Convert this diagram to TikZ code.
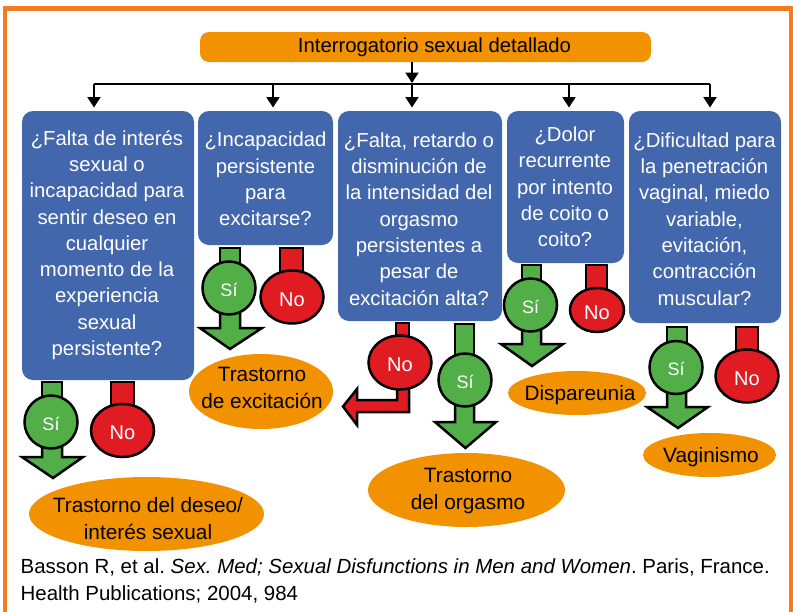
\documentclass[tikz,border=0pt]{standalone}
\usepackage{fontspec}
\setmainfont{Liberation Sans}
\usetikzlibrary{shapes.geometric,arrows.meta}
\definecolor{ordercolor}{HTML}{F39200}
\definecolor{framecolor}{HTML}{F47B20}
\definecolor{askcolor}{HTML}{4367AC}
\definecolor{sicolor}{HTML}{52AE47}
\definecolor{nocolor}{HTML}{E01B22}
\tikzset{
  askbox/.style={fill=askcolor,rounded corners=11pt},
  asktext/.style={align=center,text=white},
  resulttext/.style={align=center,text=black,font=\fontsize{20.8}{27}\selectfont},
  sinode/.style={circle,draw=black,line width=2.5pt,fill=sicolor,text=white,minimum size=53pt,inner sep=0pt,text height=16pt,text depth=0pt,font=\fontsize{18}{20}\selectfont},
  nonode/.style={ellipse,draw=black,line width=2.5pt,fill=nocolor,text=white,inner sep=0pt,text height=18pt,text depth=0pt,font=\fontsize{20}{22}\selectfont},
  siblock/.style={draw=black,line width=2.5pt,fill=sicolor},
  noblock/.style={draw=black,line width=2.5pt,fill=nocolor},
  branch/.style={black,line width=2.2pt,-{Triangle[width=13pt,length=10.5pt]}}
}
\begin{document}
\begin{tikzpicture}[x=1pt,y=-1pt,font=\frenchspacing\fontsize{20.3}{26.3}\selectfont]
    \useasboundingbox (0,0) rectangle (793,611);

    % Frame
    \begin{scope}
        \clip (0,0) rectangle (793,611);
        \draw[framecolor,line width=4.8pt] (5,8.3) rectangle (791.5,640);
    \end{scope}

    % Title
    \node[fill=ordercolor,rounded corners=9pt,minimum width=451pt,minimum height=30pt,inner sep=0pt] (title) at (425.5,47) {\hspace*{18pt}Interrogatorio sexual detallado};

    % Questions
    \fill[askbox] (22,111) rectangle (194,380);
    \node[asktext] (ask1) at (107,245) {¿Falta de interés\\sexual o\\incapacidad para\\sentir deseo en\\cualquier\\momento de la\\experiencia\\sexual\\persistente?};
    \fill[askbox] (198,111) rectangle (333,245);
    \node[asktext] (ask2) at (265.5,179) {¿Incapacidad\\persistente\\para\\excitarse?};
    \fill[askbox] (338,111) rectangle (502,321);
    \node[asktext] (ask3) at (419,219) {¿Falta, retardo o\\disminución de\\la intensidad del\\orgasmo\\persistentes a\\pesar de\\excitación alta?};
    \fill[askbox] (507,111) rectangle (624,263);
    \node[asktext] (ask4) at (565,187) {¿Dolor\\recurrente\\por intento\\de coito o\\coito?};
    \fill[askbox] (629,111) rectangle (781,323);
    \node[asktext] (ask5) at (704.5,219) {¿Dificultad para\\la penetración\\vaginal, miedo\\variable,\\evitación,\\contracción\\muscular?};

    % Branches from the title
    \coordinate (bus) at (412,84.3);
    \draw[branch] (title.south -| bus) -- (412,83);
    \draw[black,line width=2.2pt] (94,84.3) -- (710,84.3);
    \foreach \x in {94,273,412,569,710}
        \draw[branch] (\x,84.3) -- (\x,107.5);

    % Results
    \fill[ordercolor] (146.5,514) ellipse [x radius=117.5,y radius=37];
    \node[resulttext] (res1) at (148,519) {Trastorno del deseo/\\interés sexual};
    \fill[ordercolor] (261,391.5) ellipse [x radius=72,y radius=37.5];
    \node[resulttext] (res2) at (262,387.5) {Trastorno\\de excitación};
    \fill[ordercolor] (466.5,490) ellipse [x radius=98.5,y radius=37];
    \node[resulttext] (res3) at (468,490.5) {Trastorno\\del orgasmo};
    \fill[ordercolor] (577,393) ellipse [x radius=69,y radius=22];
    \node[resulttext] (res4) at (580,395) {Dispareunia};
    \fill[ordercolor] (709.5,455) ellipse [x radius=66.5,y radius=22];
    \node[resulttext] (res5) at (711,457) {Vaginismo};

    % Sí 1, No 1
    \draw[siblock] (42,382) rectangle (62,400);
    \draw[siblock] (42,447) -- (42,457) -- (22,457) -- (53,478) -- (83,457) -- (62,457) -- (62,447);
    \node[sinode] (si1) at (51,422) {Sí};
    \draw[noblock] (111,382) rectangle (134,408);
    \node[nonode,minimum width=63pt,minimum height=53pt] (no1) at (122.5,430.5) {No};

    % Sí 2, No 2
    \draw[siblock] (220,248) rectangle (240,266);
    \draw[siblock] (220,313) -- (220,328) -- (200,328) -- (230,349) -- (262,328) -- (240,328) -- (240,313);
    \node[sinode] (si2) at (229,288) {Sí};
    \draw[noblock] (280,248) rectangle (303,275);
    \node[nonode,minimum width=63pt,minimum height=53pt] (no2) at (292,297) {No};

    % No 3 with the bent arrow, Sí 3
    \draw[noblock] (396,323) rectangle (409,340);
    \draw[noblock] (409,388) -- (409,412) -- (357,412) -- (357,425) -- (343,406.5) -- (357,389) -- (357,400) -- (397,400) -- (397,388);
    \node[nonode,minimum width=63pt,minimum height=54pt] (no3) at (400,362.5) {No};
    \draw[siblock] (455,324) rectangle (474,358);
    \draw[siblock] (455,405) -- (455,422) -- (435,422) -- (465.5,448) -- (496,422) -- (474,422) -- (474,405);
    \node[sinode] (si3) at (465,380) {Sí};

    % Sí 4, No 4
    \draw[siblock] (522,265) rectangle (541,283);
    \draw[siblock] (522,330) -- (522,344) -- (501,344) -- (532,366) -- (563,344) -- (541,344) -- (541,330);
    \node[sinode] (si4) at (530.5,305) {Sí};
    \draw[noblock] (586,265) rectangle (607,292);
    \node[nonode,minimum width=54pt,minimum height=44pt] (no4) at (597,310) {No};

    % Sí 5, No 5
    \draw[siblock] (667,327) rectangle (687,345);
    \draw[siblock] (667,393) -- (667,407) -- (647,407) -- (678,428) -- (708,407) -- (686,407) -- (686,393);
    \node[sinode] (si5) at (676,367.5) {Sí};
    \draw[noblock] (736,327) rectangle (758,353);
    \node[nonode,minimum width=63pt,minimum height=53pt] (no5) at (747,376) {No};

    % Reference
    \node[anchor=west,inner sep=0pt,align=left,font=\frenchspacing\fontsize{20.45}{26.3}\selectfont] (ref) at (20.5,581) {Basson R, et al. \textit{Sex. Med; Sexual Disfunctions in Men and Women}. Paris, France.\\Health Publications; 2004, 984};
\end{tikzpicture}
\end{document}
